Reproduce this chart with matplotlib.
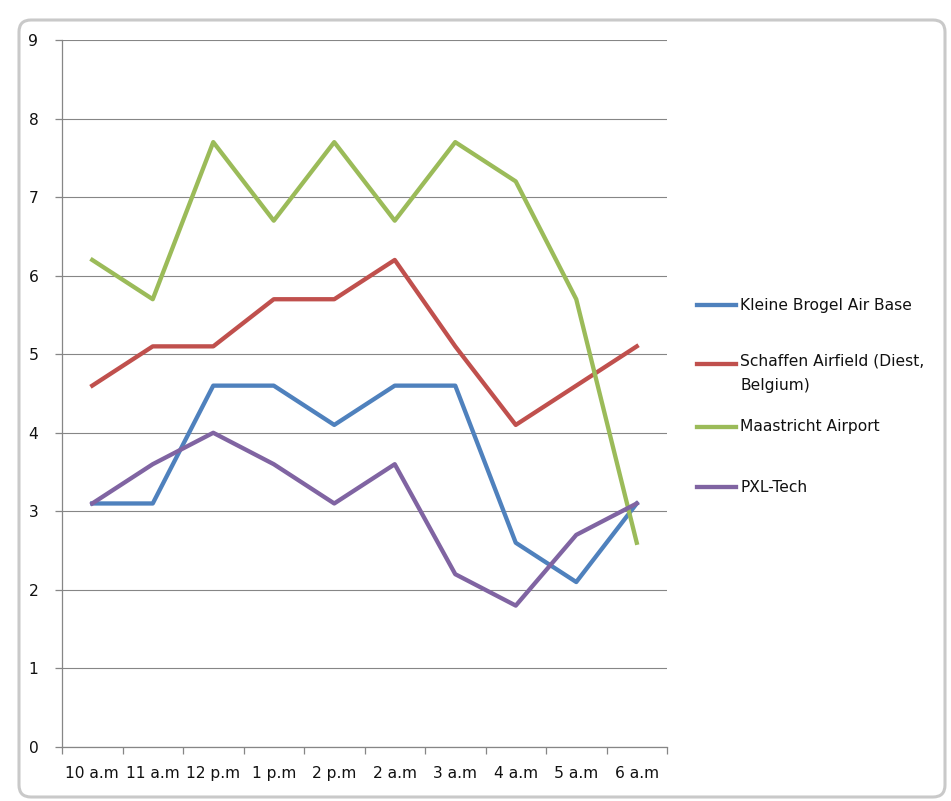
import matplotlib
matplotlib.use("Agg")
import matplotlib.pyplot as plt
from matplotlib.patches import FancyBboxPatch
from matplotlib.lines import Line2D

categories = ["10 a.m", "11 a.m", "12 p.m", "1 p.m", "2 p.m", "2 a.m", "3 a.m", "4 a.m", "5 a.m", "6 a.m"]
kleine_brogel = [3.1, 3.1, 4.6, 4.6, 4.1, 4.6, 4.6, 2.6, 2.1, 3.1]
schaffen = [4.6, 5.1, 5.1, 5.7, 5.7, 6.2, 5.1, 4.1, 4.6, 5.1]
maastricht = [6.2, 5.7, 7.7, 6.7, 7.7, 6.7, 7.7, 7.2, 5.7, 2.6]
pxl_tech = [3.1, 3.6, 4.0, 3.6, 3.1, 3.6, 2.2, 1.8, 2.7, 3.1]

series_names = ["Kleine Brogel Air Base", "Schaffen Airfield (Diest,\nBelgium)", "Maastricht Airport", "PXL-Tech"]
series_values = [kleine_brogel, schaffen, maastricht, pxl_tech]
colors = ["#4F81BD", "#C0504D", "#9BBB59", "#8064A2"]

plt.rcParams['font.family'] = ['DejaVu Sans']
W, H = 951, 801
fig = plt.figure(figsize=(W / 100, H / 100), dpi=100)
fig.patch.set_facecolor("white")

# chart border (rounded)
border = FancyBboxPatch((19, 4), 926, 777, boxstyle="round,pad=0,rounding_size=12",
                        transform=None, facecolor="white", edgecolor="#C9C9C9", linewidth=2.2,
                        zorder=-10)
fig.add_artist(border)

ax = fig.add_axes([62 / W, 1 - 747 / H, (667 - 62) / W, (747 - 40) / H])
ax.set_zorder(5)
ax.set_facecolor("none")
x = list(range(len(categories)))
for vals, c, name in zip(series_values, colors, series_names):
    ax.plot(x, vals, color=c, linewidth=3.1, solid_joinstyle="round", label=name)

ax.set_xlim(-0.5, len(categories) - 0.5)
ax.set_ylim(0, 9)
ax.set_yticks(range(0, 10))
ax.set_xticks(x)
ax.set_xticklabels(categories)
ax.set_xticks([i - 0.5 for i in range(len(categories) + 1)], minor=True)
ax.grid(axis="y", color="#868686", linewidth=0.8)
ax.set_axisbelow(True)
for s in ["top", "right"]:
    ax.spines[s].set_visible(False)
for s in ["left", "bottom"]:
    ax.spines[s].set_color("#868686")
    ax.spines[s].set_linewidth(0.9)
ax.tick_params(axis="x", which="major", length=0, pad=14, labelsize=11.2, labelcolor="#111111")
ax.tick_params(axis="x", which="minor", length=5, width=0.9, color="#868686")
ax.tick_params(axis="y", length=5, width=0.9, color="#868686", pad=12, labelsize=11.2, labelcolor="#111111")

# legend
leg_y = [305, 364, 427, 487]
for name, c, yy in zip(series_names, colors, leg_y):
    fig.add_artist(Line2D([697 / W, 736 / W], [1 - yy / H, 1 - yy / H], color=c, linewidth=3.1,
                          transform=fig.transFigure))
    if "\n" in name:
        fig.text(740 / W, 1 - (yy - 10) / H, name, ha="left", va="top", fontsize=11.2,
                 color="#111111", linespacing=1.75)
    else:
        fig.text(740 / W, 1 - yy / H, name, ha="left", va="center", fontsize=11.2, color="#111111")

fig.savefig("out.png", dpi=100)
